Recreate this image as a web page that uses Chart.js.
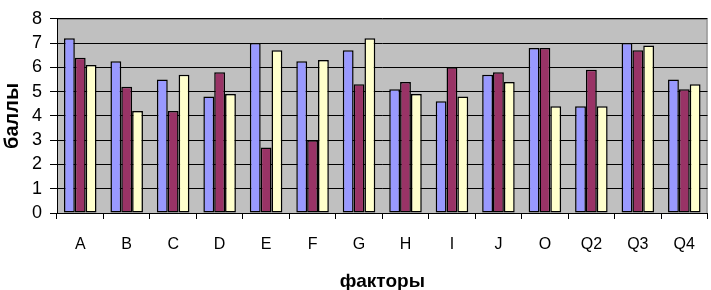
<!DOCTYPE html>
<html>
<head>
<meta charset="utf-8">
<script src="https://cdn.jsdelivr.net/npm/chart.js@4"></script>
<style>
  html, body { margin: 0; padding: 0; background: #fff; }
  #wrap { width: 711px; height: 290px; }
</style>
</head>
<body>
<div id="wrap"><canvas id="factorChart" width="711" height="290"></canvas></div>
<script>
// Categories (factors)
const factors = ["A", "B", "C", "D", "E", "F", "G", "H", "I", "J", "O", "Q2", "Q3", "Q4"];
// Three series
const series1 = [7.2, 6.25, 5.5, 4.8, 7.0, 6.25, 6.7, 5.1, 4.6, 5.7, 6.8, 4.4, 7.0, 5.5];
const series2 = [6.4, 5.2, 4.2, 5.8, 2.7, 3.0, 5.3, 5.4, 6.0, 5.8, 6.8, 5.9, 6.7, 5.1];
const series3 = [6.1, 4.2, 5.7, 4.9, 6.7, 6.3, 7.2, 4.9, 4.8, 5.4, 4.4, 4.4, 6.9, 5.3];
const yTicks = [0, 1, 2, 3, 4, 5, 6, 7, 8];

// grey plot area background with border
const plotBg = {
  id: "plotBg",
  beforeDraw(chart) {
    const { ctx, chartArea: a } = chart;
    ctx.save();
    ctx.fillStyle = "#C0C0C0";
    ctx.fillRect(a.left, a.top, a.right - a.left, a.bottom - a.top);
    ctx.strokeStyle = "#808080";
    ctx.lineWidth = 1;
    ctx.strokeRect(a.left + 0.5, a.top + 0.5, a.right - a.left - 1, a.bottom - a.top);
    ctx.restore();
  },
};

const ctx = document.getElementById("factorChart").getContext("2d");

const barStyle = { borderColor: "#000", borderWidth: 1.5, borderSkipped: false };

new Chart(ctx, {
  type: "bar",
  data: {
    labels: factors,
    datasets: [
      { data: series1, backgroundColor: "#9999FF", ...barStyle },
      { data: series2, backgroundColor: "#993366", ...barStyle },
      { data: series3, backgroundColor: "#FFFFCC", ...barStyle },
    ],
  },
  options: {
    responsive: false,
    animation: false,
    layout: { padding: { top: 8, right: 1, left: 0, bottom: 0 } },
    datasets: { bar: { categoryPercentage: 0.7, barPercentage: 1.0 } },
    plugins: {
      legend: { display: false },
      tooltip: { enabled: false },
    },
    scales: {
      x: {
        grid: { drawOnChartArea: false, drawTicks: true, tickLength: 6, color: "#000", offset: true },
        border: { display: true, color: "#000", width: 1 },
        ticks: { color: "#000", font: { family: "Liberation Sans", size: 16 }, padding: 16, autoSkip: false, maxRotation: 0 },
        title: {
          display: true,
          text: "факторы",
          color: "#000",
          font: { family: "Liberation Sans", size: 19, weight: "bold", lineHeight: 1 },
          padding: { top: 10, bottom: -1 },
        },
        afterFit(axis) { axis.height = 77; },
      },
      y: {
        min: 0,
        max: 8,
        afterBuildTicks(axis) { axis.ticks = yTicks.map(v => ({ value: v })); },
        grid: { color: "#000", lineWidth: 1, drawTicks: true, tickLength: 7 },
        border: { display: true, color: "#000", width: 1 },
        ticks: { color: "#000", font: { family: "Liberation Sans", size: 18 }, padding: 8, autoSkip: false, stepSize: 1 },
        title: {
          display: true,
          text: "баллы",
          color: "#000",
          font: { family: "Liberation Sans", size: 20, weight: "bold" },
          padding: { top: 0, bottom: 6 },
        },
        afterFit(axis) { axis.width = 57; },
      },
    },
  },
  plugins: [plotBg],
});
</script>
</body>
</html>
